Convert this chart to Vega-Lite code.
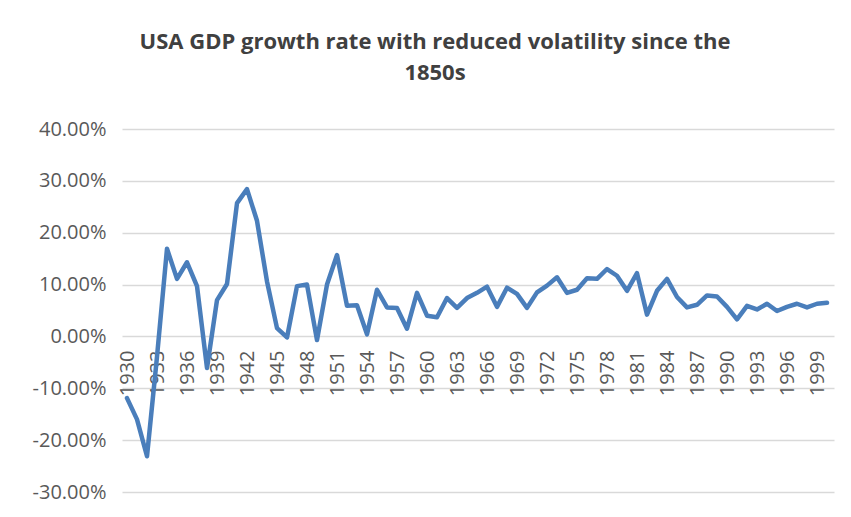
{
  "$schema": "https://vega.github.io/schema/vega-lite/v6.json",
  "autosize": "none",
  "width": 712,
  "height": 363,
  "padding": {"left": 122, "top": 129, "right": 17, "bottom": 25},
  "background": "white",
  "title": {
    "text": ["USA GDP growth rate with reduced volatility since the", "1850s"],
    "font": "Open Sans",
    "fontSize": 22,
    "fontWeight": "bold",
    "color": "#404040",
    "anchor": "middle",
    "frame": "group",
    "dx": -43,
    "offset": 34,
    "lineHeight": 31
  },
  "config": {
    "view": {"stroke": null},
    "font": "Open Sans"
  },
  "data": {
    "values": [
      {"year": 1930, "growth": -0.119},
      {"year": 1931, "growth": -0.160},
      {"year": 1932, "growth": -0.231},
      {"year": 1933, "growth": -0.039},
      {"year": 1934, "growth": 0.169},
      {"year": 1935, "growth": 0.111},
      {"year": 1936, "growth": 0.143},
      {"year": 1937, "growth": 0.097},
      {"year": 1938, "growth": -0.061},
      {"year": 1939, "growth": 0.070},
      {"year": 1940, "growth": 0.101},
      {"year": 1941, "growth": 0.257},
      {"year": 1942, "growth": 0.284},
      {"year": 1943, "growth": 0.223},
      {"year": 1944, "growth": 0.106},
      {"year": 1945, "growth": 0.016},
      {"year": 1946, "growth": -0.002},
      {"year": 1947, "growth": 0.097},
      {"year": 1948, "growth": 0.100},
      {"year": 1949, "growth": -0.007},
      {"year": 1950, "growth": 0.100},
      {"year": 1951, "growth": 0.157},
      {"year": 1952, "growth": 0.059},
      {"year": 1953, "growth": 0.060},
      {"year": 1954, "growth": 0.004},
      {"year": 1955, "growth": 0.090},
      {"year": 1956, "growth": 0.056},
      {"year": 1957, "growth": 0.055},
      {"year": 1958, "growth": 0.015},
      {"year": 1959, "growth": 0.084},
      {"year": 1960, "growth": 0.040},
      {"year": 1961, "growth": 0.037},
      {"year": 1962, "growth": 0.074},
      {"year": 1963, "growth": 0.055},
      {"year": 1964, "growth": 0.074},
      {"year": 1965, "growth": 0.084},
      {"year": 1966, "growth": 0.096},
      {"year": 1967, "growth": 0.057},
      {"year": 1968, "growth": 0.094},
      {"year": 1969, "growth": 0.082},
      {"year": 1970, "growth": 0.055},
      {"year": 1971, "growth": 0.085},
      {"year": 1972, "growth": 0.098},
      {"year": 1973, "growth": 0.114},
      {"year": 1974, "growth": 0.084},
      {"year": 1975, "growth": 0.090},
      {"year": 1976, "growth": 0.112},
      {"year": 1977, "growth": 0.111},
      {"year": 1978, "growth": 0.130},
      {"year": 1979, "growth": 0.117},
      {"year": 1980, "growth": 0.088},
      {"year": 1981, "growth": 0.122},
      {"year": 1982, "growth": 0.042},
      {"year": 1983, "growth": 0.088},
      {"year": 1984, "growth": 0.111},
      {"year": 1985, "growth": 0.076},
      {"year": 1986, "growth": 0.056},
      {"year": 1987, "growth": 0.061},
      {"year": 1988, "growth": 0.079},
      {"year": 1989, "growth": 0.077},
      {"year": 1990, "growth": 0.057},
      {"year": 1991, "growth": 0.033},
      {"year": 1992, "growth": 0.059},
      {"year": 1993, "growth": 0.052},
      {"year": 1994, "growth": 0.063},
      {"year": 1995, "growth": 0.049},
      {"year": 1996, "growth": 0.057},
      {"year": 1997, "growth": 0.063},
      {"year": 1998, "growth": 0.056},
      {"year": 1999, "growth": 0.063},
      {"year": 2000, "growth": 0.065}
    ]
  },
  "mark": {"type": "line", "color": "#4a7ebb", "strokeWidth": 4.5, "strokeJoin": "round", "strokeCap": "round"},
  "encoding": {
    "x": {
      "field": "year",
      "type": "quantitative",
      "scale": {"domain": [1929.5, 2000.7], "nice": false, "zero": false},
      "axis": {
        "title": null,
        "values": [1930, 1933, 1936, 1939, 1942, 1945, 1948, 1951, 1954, 1957, 1960, 1963, 1966, 1969, 1972, 1975, 1978, 1981, 1984, 1987, 1990, 1993, 1996, 1999],
        "format": "d",
        "labelAngle": 270,
        "labelFontSize": 20,
        "labelColor": "#595959",
        "labelFont": "Open Sans",
        "labelPadding": 14,
        "ticks": false,
        "domain": false,
        "grid": false,
        "offset": -156,
        "labelOverlap": false,
        "labelFlush": false
      }
    },
    "y": {
      "field": "growth",
      "type": "quantitative",
      "scale": {"domain": [-0.3, 0.4], "nice": false},
      "axis": {
        "title": null,
        "values": [-0.3, -0.2, -0.1, 0, 0.1, 0.2, 0.3, 0.4],
        "labelExpr": "replace(format(datum.value, '.2%'), '\u2212', '-')",
        "labelFontSize": 20,
        "labelColor": "#595959",
        "labelFont": "Open Sans",
        "labelPadding": 16,
        "ticks": false,
        "domain": false,
        "grid": true,
        "gridColor": "#d9d9d9",
        "gridWidth": 1.5
      }
    }
  }
}
